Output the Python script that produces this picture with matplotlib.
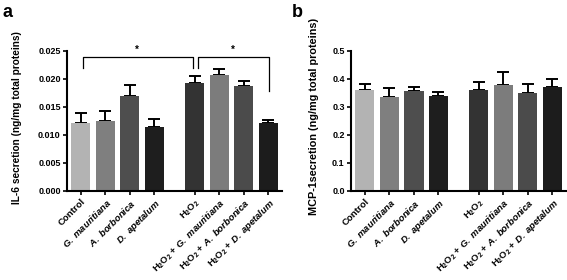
import numpy as np
import matplotlib
matplotlib.use("Agg")
import matplotlib.pyplot as plt

plt.rcParams['font.family'] = ['Liberation Sans', 'DejaVu Sans']
plt.rcParams['font.weight'] = 'bold'
plt.rcParams['mathtext.fontset'] = 'custom'
plt.rcParams['mathtext.rm'] = 'Liberation Sans:bold'
plt.rcParams['mathtext.it'] = 'Liberation Sans:bold:italic'
plt.rcParams['mathtext.bf'] = 'Liberation Sans:bold'
plt.rcParams['mathtext.default'] = 'rm'

labels = ['Control', r'$\mathit{G.\ mauritiana}$', r'$\mathit{A.\ borbonica}$', r'$\mathit{D.\ apetalum}$',
          r'H$_2$O$_2$', r'H$_2$O$_2$ + $\mathit{G.\ mauritiana}$',
          r'H$_2$O$_2$ + $\mathit{A.\ borbonica}$', r'H$_2$O$_2$ + $\mathit{D.\ apetalum}$']
x_pos = [0, 1, 2, 3, 4.65, 5.65, 6.65, 7.65]
colors = ['#b3b3b3', '#7f7f7f', '#4e4e4e', '#1e1e1e', '#333333', '#7c7c7c', '#4b4b4b', '#1c1c1c']

il6_mean = [0.0121, 0.0125, 0.0170, 0.0114, 0.0193, 0.0207, 0.0188, 0.0121]
il6_sem = [0.0018, 0.0017, 0.0019, 0.0015, 0.0012, 0.0010, 0.0009, 0.0006]
mcp1_mean = [0.361, 0.335, 0.357, 0.338, 0.361, 0.378, 0.351, 0.371]
mcp1_sem = [0.021, 0.032, 0.015, 0.017, 0.029, 0.048, 0.031, 0.028]


def bar_panel(ax, means, sems, ymax, yticks, fmt, ylabel, lsize):
    n = len(means)
    ax.bar(x_pos, means, width=0.78, color=colors, zorder=2)
    ax.errorbar(x_pos, means, yerr=[[0] * n, sems], fmt='none', ecolor='black',
                elinewidth=1.4, capsize=4, capthick=1.4, zorder=1)
    ax.set_xlim(-0.57, 8.2)
    ax.set_ylim(0, ymax)
    ax.set_yticks(yticks)
    ax.set_yticklabels([fmt.format(v) for v in yticks], fontsize=6.5, fontweight='bold')
    ax.set_xticks(x_pos)
    ax.set_xticklabels(labels, rotation=45, ha='right', rotation_mode='anchor', fontsize=6.8, fontweight='bold')
    ax.set_ylabel(ylabel, fontsize=lsize, fontweight='bold')
    ax.spines['top'].set_visible(False)
    ax.spines['right'].set_visible(False)
    ax.spines['left'].set_linewidth(1.5)
    ax.spines['bottom'].set_linewidth(1.5)
    ax.tick_params(direction='out', length=3, width=1.2, pad=1.5)


fig = plt.figure(figsize=(5.67, 2.8), dpi=100)
ax1 = fig.add_axes([0.118, 0.318, 0.379, 0.5])
ax2 = fig.add_axes([0.619, 0.318, 0.379, 0.5])

bar_panel(ax1, il6_mean, il6_sem, 0.025, [0, 0.005, 0.010, 0.015, 0.020, 0.025], '{:.3f}',
          'IL-6 secretion (ng/mg total proteins)', 7.3)
bar_panel(ax2, mcp1_mean, mcp1_sem, 0.5, [0, 0.1, 0.2, 0.3, 0.4, 0.5], '{:.1f}',
          'MCP-1secretion (ng/mg total proteins)', 7.8)
ax1.yaxis.set_label_coords(-0.21, 0.525)
ax2.yaxis.set_label_coords(-0.15, 0.535)

# significance brackets
ax1.plot([0.07, 0.07, 4.56, 4.56], [0.0220, 0.0240, 0.0240, 0.0220], color='black', lw=0.9, clip_on=False)
ax1.plot([4.76, 4.76, 7.69, 7.69], [0.0220, 0.0240, 0.0240, 0.0179], color='black', lw=0.9, clip_on=False)
ax1.text(2.3, 0.0243, '*', ha='center', va='bottom', fontsize=7)
ax1.text(6.2, 0.0243, '*', ha='center', va='bottom', fontsize=7)

fig.text(0.005, 0.985, 'a', fontsize=13, fontweight='bold', va='top')
fig.text(0.515, 0.985, 'b', fontsize=13, fontweight='bold', va='top')

fig.savefig('out.png', dpi=100)
